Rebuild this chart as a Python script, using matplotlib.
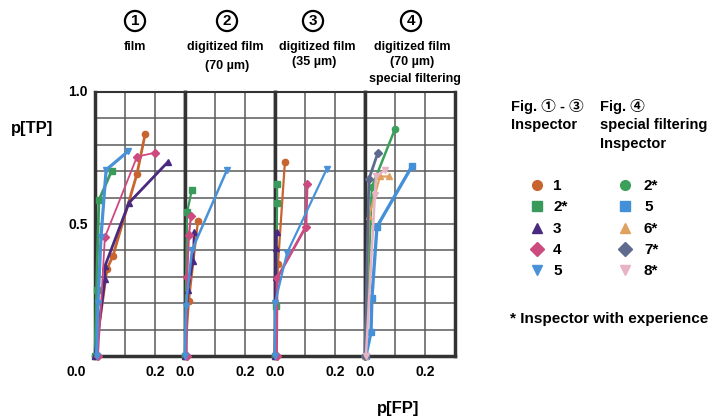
import matplotlib.pyplot as plt

plt.rcParams['font.family'] = ['Liberation Sans', 'Noto Sans CJK JP', 'DejaVu Sans']
plt.rcParams['font.weight'] = 'bold'

# inspectors for panels 1-3 and for panel 4
insp_a = ['1', '2*', '3', '4', '5']
insp_b = ['2*', '5', '6*', '7*', '8*']
colors_a = ['#c8642e', '#3a9a5c', '#4a2a80', '#cc4a7f', '#4a92d8']
colors_b = ['#3aa05a', '#4490d8', '#e0a060', '#5e6b8c', '#e8b4c4']
markers = ['o', 's', '^', 'D', 'v']

# panel 1: film
film_fp = [[0, 0.04, 0.06, 0.14, 0.167],
           [0, 0.005, 0.013, 0.055],
           [0, 0.033, 0.033, 0.113, 0.243],
           [0.01, 0.033, 0.14, 0.2],
           [0.005, 0.01, 0.02, 0.037, 0.11]]
film_tp = [[0, 0.33, 0.38, 0.69, 0.84],
           [0, 0.25, 0.59, 0.70],
           [0, 0.29, 0.34, 0.58, 0.735],
           [0, 0.45, 0.755, 0.77],
           [0, 0.2, 0.45, 0.705, 0.775]]

# panel 2: digitized film 70 um
d70_fp = [[0, 0.013, 0.043],
          [0, 0.007, 0.023],
          [0, 0.01, 0.027, 0.03],
          [0.005, 0.007, 0.013, 0.02],
          [0, 0.003, 0.023, 0.14]]
d70_tp = [[0, 0.21, 0.51],
          [0, 0.545, 0.63],
          [0, 0.25, 0.36, 0.47],
          [0, 0.30, 0.46, 0.53],
          [0, 0.19, 0.40, 0.705]]

# panel 3: digitized film 35 um
d35_fp = [[0, 0.01, 0.033],
          [0, 0.003, 0.007, 0.007],
          [0, 0.003, 0.003, 0.005],
          [0.005, 0.007, 0.103, 0.107],
          [0, 0.0, 0.04, 0.173]]
d35_tp = [[0, 0.35, 0.735],
          [0, 0.19, 0.58, 0.65],
          [0, 0.3, 0.41, 0.47],
          [0, 0.295, 0.49, 0.65],
          [0, 0.2, 0.39, 0.71]]

# panel 4: digitized film 70 um, special filtering
filt_fp = [[0, 0.023, 0.1],
           [0.003, 0.02, 0.023, 0.04, 0.157],
           [0, 0.013, 0.05, 0.08],
           [0, 0.013, 0.043],
           [0.003, 0.033, 0.037, 0.067]]
filt_tp = [[0, 0.64, 0.86],
           [0, 0.09, 0.22, 0.49, 0.72],
           [0, 0.53, 0.68, 0.68],
           [0, 0.67, 0.77],
           [0, 0.61, 0.68, 0.705]]

panels = [(film_fp, film_tp, colors_a), (d70_fp, d70_tp, colors_a),
          (d35_fp, d35_tp, colors_a), (filt_fp, filt_tp, colors_b)]
widths = [[2, 2, 2, 1.3, 2.3], [1.6, 1.6, 1.6, 1.6, 1.8],
          [1.6, 1.6, 2, 2, 1.6], [1.8, 2.4, 1.6, 2, 1.8]]

W, H = 715, 420
fig = plt.figure(figsize=(W / 100, H / 100), dpi=100)

left_px = [95, 185, 275, 365]
for k, (fp, tp, cols) in enumerate(panels):
    ax = fig.add_axes([left_px[k] / W, 64 / H, 90 / W, 264 / H])
    ax.set_xlim(0, 0.3)
    ax.set_ylim(0, 1)
    for gx in [0.1, 0.2]:
        ax.axvline(gx, color='#5a5a5a', lw=1.1, zorder=0)
    for gy in range(1, 10):
        ax.axhline(gy / 10, color='#5a5a5a', lw=1.1, zorder=0)
    for i in range(5):
        ax.plot(fp[i], tp[i], color=cols[i], marker=markers[i], ms=4.5,
                lw=widths[k][i], clip_on=False, zorder=3)
    for side in ['left', 'right', 'bottom']:
        ax.spines[side].set_linewidth(2.5)
        ax.spines[side].set_color('#333333')
    ax.spines['top'].set_linewidth(1.5)
    ax.spines['top'].set_color('#333333')
    ax.set_xticks([])
    ax.set_yticks([])
    # x tick labels
    x0 = left_px[k] if k > 0 else 76
    fig.text(x0 / W, 1 - 372 / H, '0.0', ha='center', va='center', fontsize=10)
    fig.text((left_px[k] + 60) / W, 1 - 372 / H, '0.2', ha='center', va='center', fontsize=10)

fig.text(88 / W, 1 - 92 / H, '1.0', ha='right', va='center', fontsize=10)
fig.text(88 / W, 1 - 225 / H, '0.5', ha='right', va='center', fontsize=10)
fig.text(32 / W, 1 - 128 / H, 'p[TP]', ha='center', va='center', fontsize=12)
fig.text(398 / W, 1 - 408 / H, 'p[FP]', ha='center', va='center', fontsize=12)

# panel headers
circ_x = [135, 227, 313, 411]
for k in range(4):
    fig.text(circ_x[k] / W, 1 - 21 / H, str(k + 1), ha='center', va='center',
             fontsize=11, bbox=dict(boxstyle='circle,pad=0.2', fc='white',
                                    ec='black', lw=1.6))
fig.text(135 / W, 1 - 47 / H, 'film', ha='center', va='center', fontsize=9)
fig.text(225 / W, 1 - 47 / H, 'digitized film', ha='center', va='center', fontsize=9)
fig.text(227 / W, 1 - 66 / H, '(70 µm)', ha='center', va='center', fontsize=9)
fig.text(317 / W, 1 - 47 / H, 'digitized film', ha='center', va='center', fontsize=9)
fig.text(314 / W, 1 - 62 / H, '(35 µm)', ha='center', va='center', fontsize=9)
fig.text(412 / W, 1 - 47 / H, 'digitized film', ha='center', va='center', fontsize=9)
fig.text(412 / W, 1 - 62 / H, '(70 µm)', ha='center', va='center', fontsize=9)
fig.text(415 / W, 1 - 79 / H, 'special filtering', ha='center', va='center', fontsize=9)

# legend drawn in pixel coordinates
lg = fig.add_axes([0, 0, 1, 1])
lg.set_xlim(0, W)
lg.set_ylim(H, 0)
lg.axis('off')
lg.text(511, 106, 'Fig. ① - ③', ha='left', va='center', fontsize=10.5)
lg.text(511, 125, 'Inspector', ha='left', va='center', fontsize=10.5)
lg.text(600, 106, 'Fig. ④', ha='left', va='center', fontsize=10.5)
lg.text(600, 125, 'special filtering', ha='left', va='center', fontsize=10.5)
lg.text(600, 144, 'Inspector', ha='left', va='center', fontsize=10.5)
rows_y = [185, 206, 228, 249, 270]
for i in range(5):
    lg.plot(537, rows_y[i], marker=markers[i], color=colors_a[i], ms=7, ls='none')
    lg.text(553, rows_y[i] + 1, insp_a[i], ha='left', va='center', fontsize=11)
    lg.plot(625, rows_y[i], marker=markers[i], color=colors_b[i], ms=7, ls='none')
    lg.text(644, rows_y[i] + 1, insp_b[i], ha='left', va='center', fontsize=11)
lg.text(510, 319, '* Inspector with experience', ha='left', va='center', fontsize=11)

fig.savefig('out.png', dpi=100)
